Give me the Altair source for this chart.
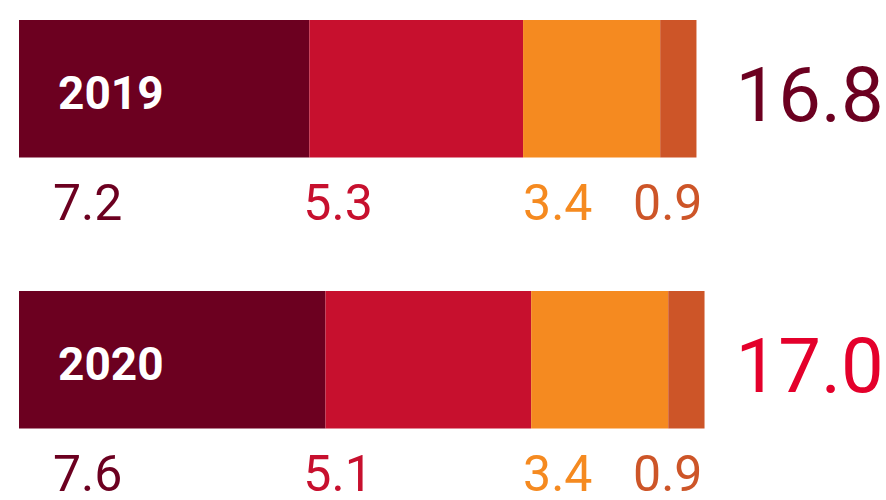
import altair as alt
import pandas as pd

# ---- data ----
years = ["2019", "2020"]
segments = ["Segment 1", "Segment 2", "Segment 3", "Segment 4"]
values_2019 = [7.2, 5.3, 3.4, 0.9]
values_2020 = [7.6, 5.1, 3.4, 0.9]
totals = [16.8, 17.0]

# ---- styles ----
seg_colors = ["#6C0020", "#C7102E", "#F58A20", "#CD5528"]
total_colors = ["#6C0020", "#E4002B"]
FONT = "Roboto"

rows = []
for y, vals in zip(years, [values_2019, values_2020]):
    start = 0.0
    for i, (s, v) in enumerate(zip(segments, vals)):
        rows.append({"year": y, "segment": s, "idx": i, "value": v,
                     "start": start, "end": start + v, "label": f"{v:.1f}"})
        start += v
df = pd.DataFrame(rows)
# labels sit in columns shared by both years
df["col_start"] = df.groupby("idx")["start"].transform("min")
df["col_end"] = df.groupby("idx")["end"].transform("min")

tot = pd.DataFrame({"year": years, "total": totals,
                    "label": [f"{t:.1f}" for t in totals]})
tot["total_x"] = tot["total"].max()
yr = pd.DataFrame({"year": years, "zero": [0.0, 0.0]})

x_scale = alt.Scale(domain=[0, 21.5], nice=False, zero=False)
y_scale = alt.Scale(domain=years, paddingInner=0.4926, paddingOuter=0.169, align=0.2186)

bars = alt.Chart(df).mark_bar(strokeWidth=0).encode(
    x=alt.X("value:Q", stack="zero", scale=x_scale, axis=None),
    y=alt.Y("year:N", scale=y_scale,
            axis=alt.Axis(title=None, labels=False, ticks=False, grid=False,
                          domain=True, domainColor="#E4002B", domainWidth=1, offset=2)),
    color=alt.Color("segment:N", scale=alt.Scale(domain=segments, range=seg_colors), legend=None),
    order=alt.Order("idx:Q"),
)

year_labels = alt.Chart(yr).mark_text(
    font=FONT, fontSize=46, fontWeight="bold", color="white",
    align="left", baseline="alphabetic", dx=39, dy=20,
).encode(
    x=alt.X("zero:Q", scale=x_scale, axis=None),
    y=alt.Y("year:N", scale=y_scale, axis=None),
    text="year:N",
)

label_specs = [
    ("col_start", "left", 34),
    ("col_start", "left", -6),
    ("col_start", "left", 0),
    ("col_end", "right", 6),
]
value_layers = []
for i, (field, align, dx) in enumerate(label_specs):
    value_layers.append(
        alt.Chart(df[df["idx"] == i]).mark_text(
            font=FONT, fontSize=50, color=seg_colors[i],
            align=align, baseline="alphabetic", dx=dx, dy=131,
        ).encode(
            x=alt.X(f"{field}:Q", scale=x_scale, axis=None),
            y=alt.Y("year:N", scale=y_scale, axis=None),
            text="label:N",
        )
    )

total_labels = alt.Chart(tot).mark_text(
    font=FONT, fontSize=76, align="left", baseline="alphabetic", dx=31, dy=32,
).encode(
    x=alt.X("total_x:Q", scale=x_scale, axis=None),
    y=alt.Y("year:N", scale=y_scale, axis=None),
    text="label:N",
    color=alt.Color("year:N", scale=alt.Scale(domain=years, range=total_colors), legend=None),
)

chart = alt.layer(bars, year_labels, *value_layers, total_labels).resolve_scale(
    color="independent"
).properties(
    width=867, height=500,
    padding={"left": 19, "top": 0, "right": 0, "bottom": 0},
    autosize=alt.AutoSizeParams(type="none"),
    background="white",
).configure_view(stroke=None)

chart.save("out.html", embed_options={"renderer": "svg", "actions": False})
